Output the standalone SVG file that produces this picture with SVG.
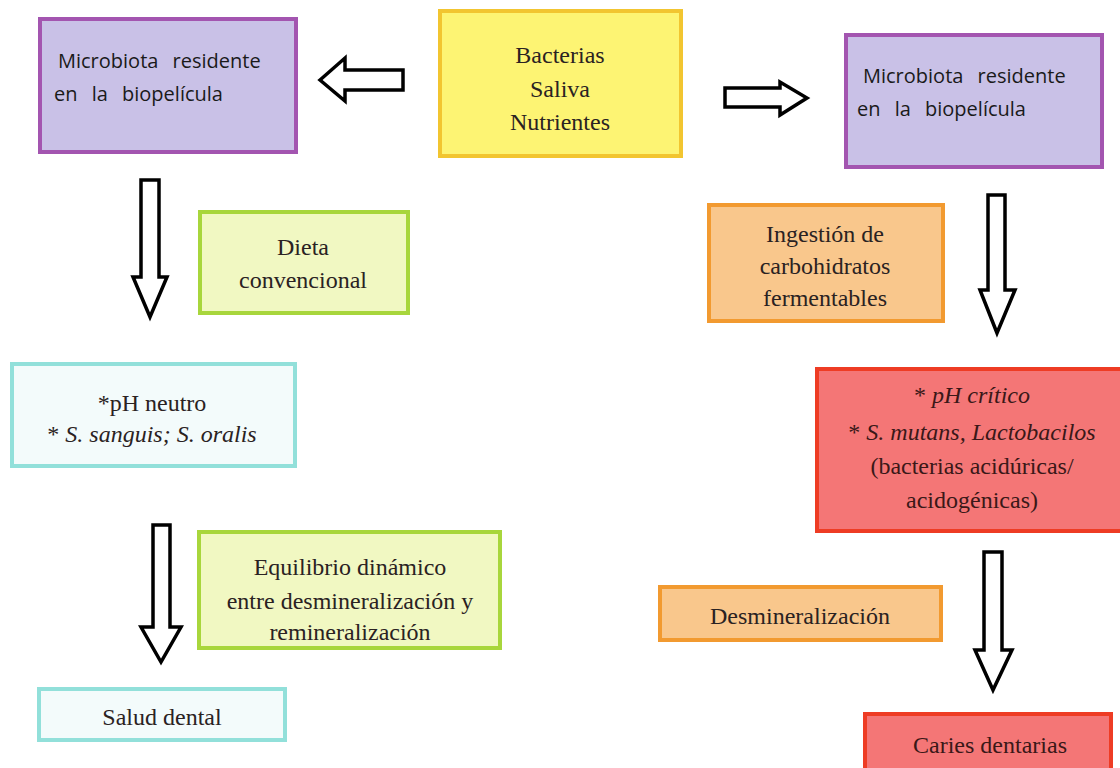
<svg xmlns="http://www.w3.org/2000/svg" width="1120" height="768" viewBox="0 0 1120 768">
  <style>
    .purple { fill: #c9c1e7; stroke: #a355b0; stroke-width: 4; }
    .yellow { fill: #fdf473; stroke: #f2c530; stroke-width: 4; }
    .lime { fill: #f1f8c2; stroke: #a8d63c; stroke-width: 4; }
    .orange { fill: #f9c78c; stroke: #f29a30; stroke-width: 4; }
    .teal { fill: #f3fbfb; stroke: #92e0da; stroke-width: 4; }
    .red { fill: #f47676; stroke: #ee3c24; stroke-width: 4; }
    .sans { font-family: "Open Sans", "Liberation Sans", sans-serif; font-size: 20px; fill: #1a1a1a; word-spacing: 9px; }
    .serif { font-family: "Liberation Serif", "DejaVu Serif", serif; font-size: 24px; fill: #2a2222; text-anchor: middle; }
    .dark { fill: #3a1818; }
    .it { font-style: italic; }
    .arrow { fill: #ffffff; stroke: #000000; stroke-width: 3.5; stroke-linejoin: miter; }
  </style>
  <rect width="1120" height="768" fill="#ffffff"/>

  <!-- hollow block arrows -->
  <g id="connectors">
    <polygon class="arrow" points="320,80 345,58 345,70 403,70 403,90 345,90 345,101"/>
    <polygon class="arrow" points="725,88 780,88 780,82 807,98 780,115 780,107 725,107"/>
    <polygon class="arrow" points="141,180 159,180 159,277 167,277 150,317 133,277 141,277"/>
    <polygon class="arrow" points="153,525 170,525 170,627 181,627 161,662 141,627 153,627"/>
    <polygon class="arrow" points="988,195 1005,195 1005,290 1015,290 997,333 980,290 988,290"/>
    <polygon class="arrow" points="984,552 1002,552 1002,650 1012,650 993,690 975,650 984,650"/>
  </g>

  <g id="microbiota-left">
    <rect class="purple" x="40" y="19" width="256" height="133"/>
    <text class="sans" x="58" y="68">Microbiota  residente</text>
    <text class="sans" x="54" y="101">en  la  biopelícula</text>
  </g>

  <g id="origen">
    <rect class="yellow" x="440" y="11" width="241" height="145"/>
    <text class="serif" x="560" y="63">Bacterias</text>
    <text class="serif" x="560" y="97">Saliva</text>
    <text class="serif" x="560" y="130">Nutrientes</text>
  </g>

  <g id="microbiota-right">
    <rect class="purple" x="846" y="35" width="256" height="132"/>
    <text class="sans" x="863" y="83">Microbiota  residente</text>
    <text class="sans" x="857" y="116">en  la  biopelícula</text>
  </g>

  <g id="dieta">
    <rect class="lime" x="200" y="212" width="208" height="101"/>
    <text class="serif" x="303" y="255">Dieta</text>
    <text class="serif" x="303" y="288">convencional</text>
  </g>

  <g id="ingestion">
    <rect class="orange" x="709" y="205" width="234" height="116"/>
    <text class="serif" x="825" y="242">Ingestión de</text>
    <text class="serif" x="825" y="274">carbohidratos</text>
    <text class="serif" x="825" y="306">fermentables</text>
  </g>

  <g id="ph-neutro">
    <rect class="teal" x="12" y="364" width="283" height="102"/>
    <text class="serif" x="152" y="411">*pH neutro</text>
    <text class="serif" x="152" y="442">* <tspan class="it">S. sanguis; S. oralis</tspan></text>
  </g>

  <g id="ph-critico">
    <rect class="red" x="817" y="369" width="305" height="162"/>
    <text class="serif dark" x="972" y="403">* <tspan class="it">pH crítico</tspan></text>
    <text class="serif dark" x="972" y="440">* <tspan class="it">S. mutans, Lactobacilos</tspan></text>
    <text class="serif dark" x="972" y="474">(bacterias acidúricas/</text>
    <text class="serif dark" x="972" y="508">acidogénicas)</text>
  </g>

  <g id="equilibrio">
    <rect class="lime" x="199" y="532" width="301" height="116"/>
    <text class="serif" x="350" y="575">Equilibrio dinámico</text>
    <text class="serif" x="350" y="609">entre desmineralización y</text>
    <text class="serif" x="350" y="640">remineralización</text>
  </g>

  <g id="desmineralizacion">
    <rect class="orange" x="660" y="587" width="281" height="53"/>
    <text class="serif" x="800" y="624">Desmineralización</text>
  </g>

  <g id="salud">
    <rect class="teal" x="39" y="689" width="246" height="51"/>
    <text class="serif" x="162" y="725">Salud dental</text>
  </g>

  <g id="caries">
    <rect class="red" x="865" y="714" width="246" height="60"/>
    <text class="serif dark" x="990" y="753">Caries dentarias</text>
  </g>
</svg>
